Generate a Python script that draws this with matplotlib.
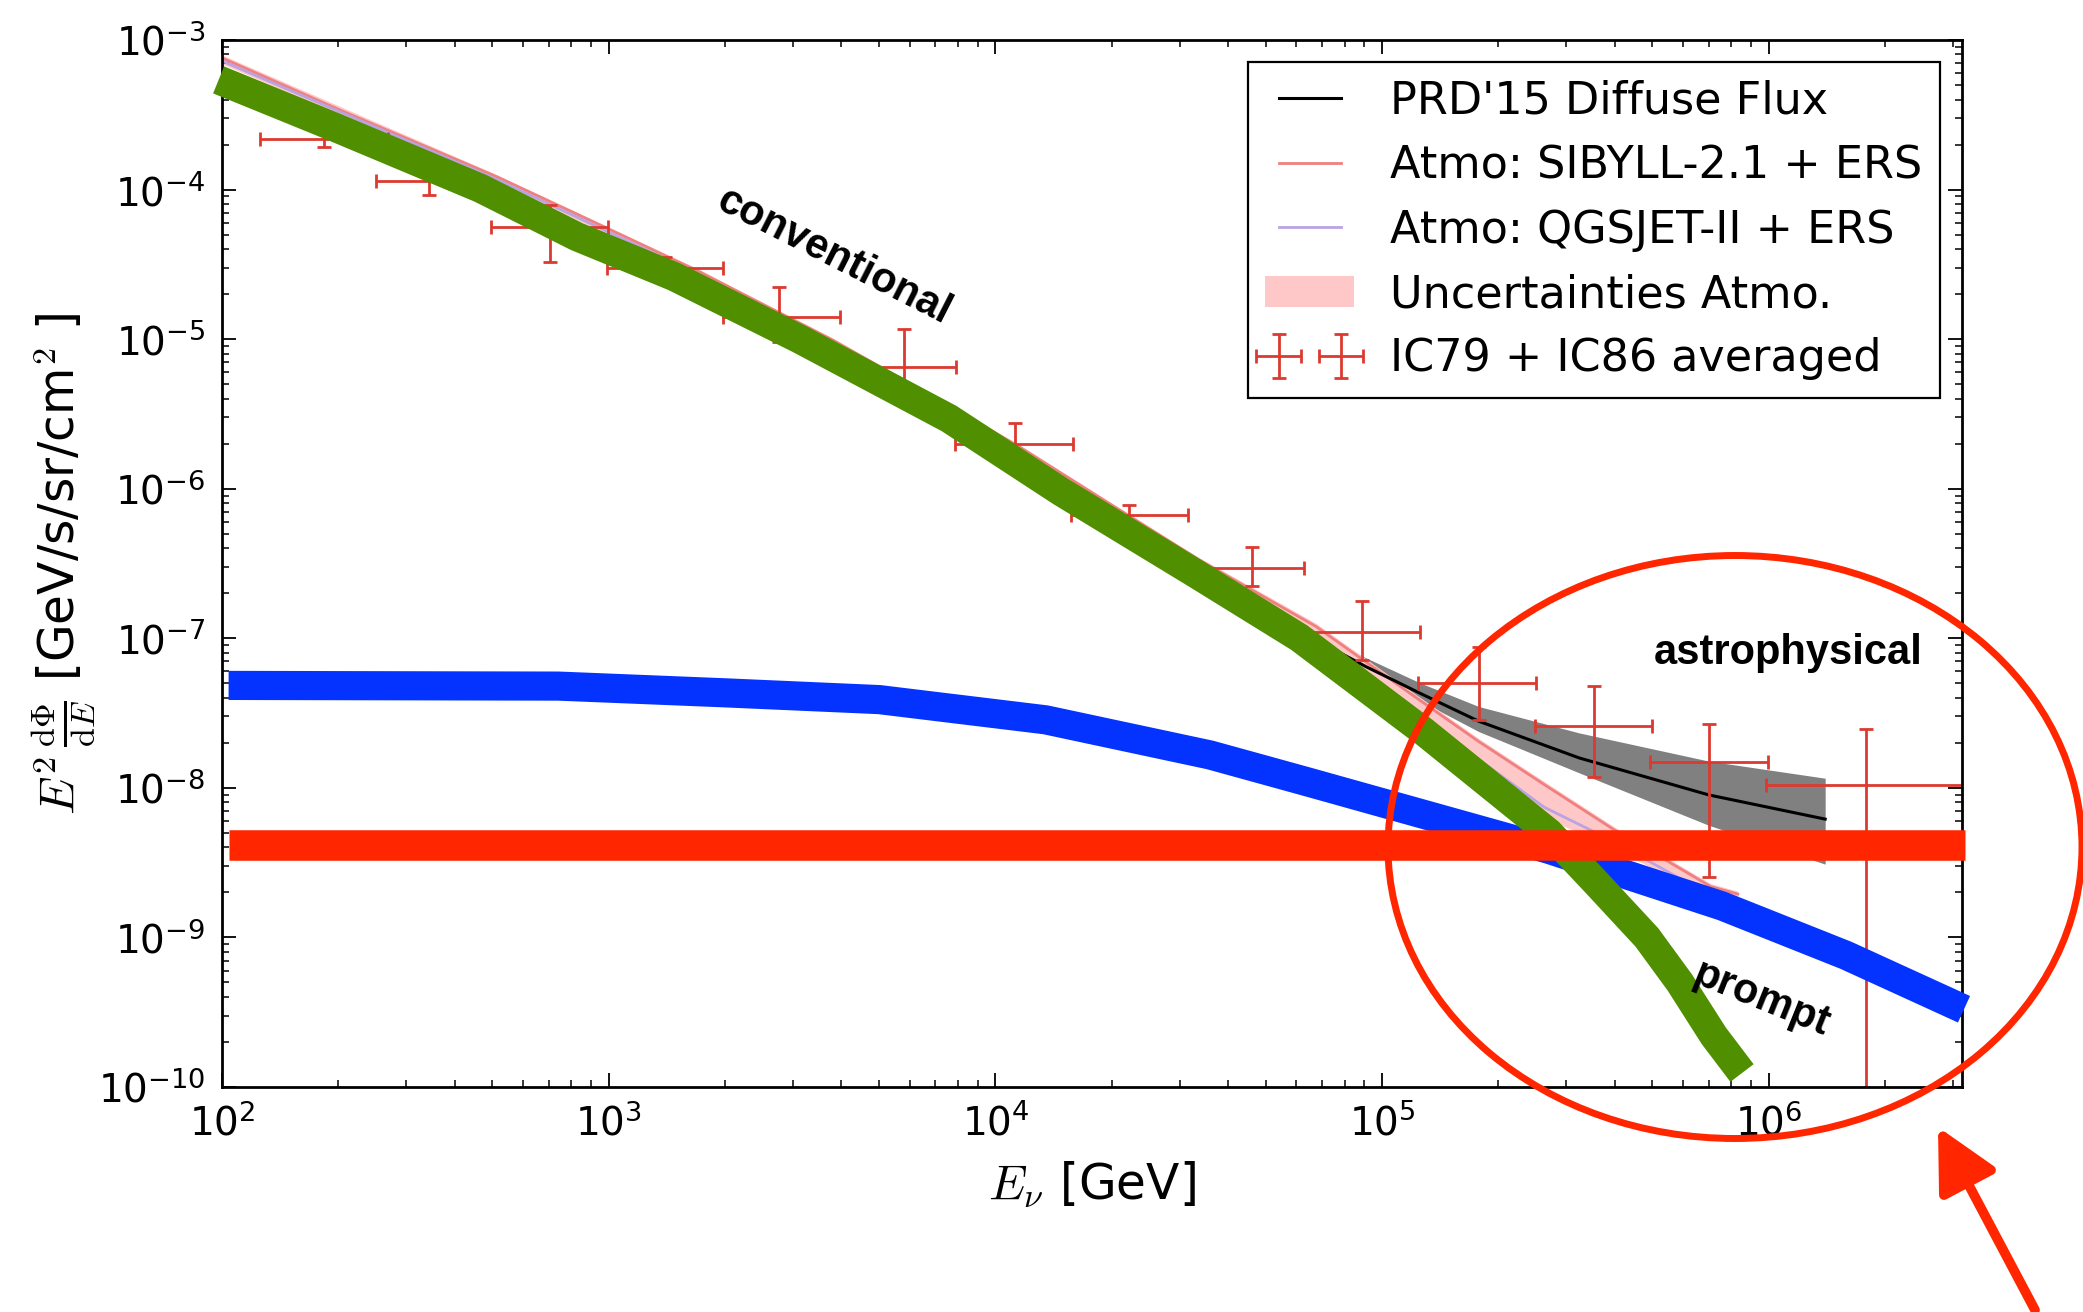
import numpy as np
import matplotlib
matplotlib.use("Agg")
import matplotlib.pyplot as plt
from matplotlib.patches import Ellipse, FancyArrowPatch

plt.rcParams['mathtext.fontset'] = 'cm'
plt.rcParams['axes.unicode_minus'] = False

# hand drawn bands (GeV, GeV/s/sr/cm2)
conv_E = [98, 193, 466, 828, 1476, 3119, 7586, 1.479e4, 3.311e4, 6.109e4,
          1.285e5, 2.704e5, 3.597e5, 4.842e5, 5.89e5, 7.211e5, 8.531e5]
conv_F = [5.41e-4, 2.65e-4, 1.02e-4, 4.84e-5, 2.62e-5, 1.0e-5, 2.95e-6, 9.55e-7,
          2.69e-7, 1.01e-7, 2.37e-8, 5.01e-9, 2.29e-9, 1.0e-9, 5.0e-10, 2.2e-10, 1.24e-10]

prompt_E = [104, 741, 1995, 5012, 1.349e4, 3.589e4, 6.31e4, 2.692e5, 7.586e5, 1.585e6, 3.2e6]
prompt_F = [4.84e-8, 4.79e-8, 4.32e-8, 3.89e-8, 2.85e-8, 1.66e-8, 1.11e-8, 3.89e-9,
            1.62e-9, 7.59e-10, 3.31e-10]

astro_E = [104, 3.21e6]
astro_F = [4.16e-9, 4.16e-9]

# atmospheric models
sib_E = [100, 202, 513, 929, 1718, 3793, 6887, 11535, 33651, 67453, 123027,
         177828, 263027, 398107, 707946, 831764]
sib_F = [7.59e-4, 3.40e-4, 1.22e-4, 5.96e-5, 2.82e-5, 9.89e-6, 4.13e-6, 1.91e-6,
         3.34e-7, 1.20e-7, 3.98e-8, 2.04e-8, 1.05e-8, 5.25e-9, 2.19e-9, 1.95e-9]

qgs_E = [100, 513, 1718, 6887, 33651, 67453, 123027, 177828, 263027, 398107, 707946, 831764]
qgs_F = [7.24e-4, 1.17e-4, 2.69e-5, 3.89e-6, 3.02e-7, 1.02e-7, 3.16e-8, 1.55e-8,
         7.41e-9, 4.37e-9, 1.9e-9, 1.7e-9]
unc_hi = [7.94e-4, 1.26e-4, 2.92e-5, 4.27e-6, 3.47e-7, 1.26e-7, 4.17e-8, 2.14e-8,
          1.10e-8, 5.50e-9, 2.29e-9, 2.04e-9]
unc_lo = [6.92e-4, 1.12e-4, 2.57e-5, 3.63e-6, 2.75e-7, 9.12e-8, 2.75e-8, 1.38e-8,
          6.31e-9, 3.98e-9, 1.78e-9, 1.58e-9]

# PRD'15 diffuse flux
prd_E = [63096, 90782, 125893, 177828, 323594, 699842, 1.40e6]
prd_F = [1.07e-7, 6.47e-8, 4.27e-8, 2.79e-8, 1.585e-8, 8.97e-9, 6.18e-9]
prd_hi = [1.175e-7, 7.41e-8, 5.01e-8, 3.50e-8, 2.33e-8, 1.51e-8, 1.16e-8]
prd_lo = [1.0e-7, 5.89e-8, 3.80e-8, 2.38e-8, 1.26e-8, 5.62e-9, 3.09e-9]

# IC79 + IC86 unfolded points
pt_E = [183.7, 342.8, 703.1, 1396, 2754, 5821, 11220, 22182, 46238, 88716,
        178649, 353183, 699842, 1.782e6]
pt_Elo = [125.3, 249.5, 497.7, 988.6, 1972, 3981, 7852, 15704, 31623, 62661,
          124166, 248886, 494311, 9.84e5]
pt_Ehi = [269.2, 467.7, 995.4, 1972, 3954, 7889, 15849, 31405, 62661, 125026,
          249459, 498884, 995405, 3.236e6]
pt_F = [2.168e-4, 1.148e-4, 5.60e-5, 2.98e-5, 1.413e-5, 6.55e-6, 2.0e-6, 6.65e-7,
        2.97e-7, 1.10e-7, 5.01e-8, 2.594e-8, 1.486e-8, 1.047e-8]
pt_Fhi = [2.399e-4, 1.318e-4, 7.94e-5, 3.55e-5, 2.244e-5, 1.164e-5, 2.77e-6, 7.76e-7,
          4.06e-7, 1.778e-7, 8.71e-8, 4.81e-8, 2.68e-8, 2.466e-8]
pt_Flo = [1.936e-4, 9.20e-5, 3.27e-5, 2.51e-5, 9.62e-6, 3.98e-6, 1.41e-6, 5.62e-7,
          2.24e-7, 7.18e-8, 2.85e-8, 1.18e-8, 2.55e-9, 1e-13]

W, H = 2083, 1312
fig = plt.figure(figsize=(W / 100, H / 100), dpi=100)
ax = fig.add_axes([222 / W, 1 - 1087 / H, 1740 / W, 1047 / H])
ax.set_xscale('log')
ax.set_yscale('log')

ax.fill_between(prd_E, prd_lo, prd_hi, color='#808080', lw=0, zorder=1)
h_unc = ax.fill_between(qgs_E, unc_lo, unc_hi, color='#ffc8c8', lw=0, zorder=1.2)
h_sib, = ax.plot(sib_E, sib_F, color='#f08080', lw=2, zorder=2)
h_qgs, = ax.plot(qgs_E, qgs_F, color='#b9a3e3', lw=2, zorder=2)
h_prd, = ax.plot(prd_E, prd_F, color='black', lw=2.2, zorder=2.2)

E = np.array(pt_E)
F = np.array(pt_F)
xerr = [E - np.array(pt_Elo), np.array(pt_Ehi) - E]
yerr = [F - np.array(pt_Flo), np.array(pt_Fhi) - F]
h_pts = ax.errorbar(E, F, xerr=xerr, yerr=yerr, fmt='none', ecolor='#dc3a30',
                    elinewidth=2, capsize=5, capthick=2, zorder=2.5)

# hand drawn overlay
ax.plot(prompt_E, prompt_F, color='#0433ff', lw=21, solid_capstyle='butt',
        solid_joinstyle='miter', zorder=4, clip_on=False)
ax.plot(conv_E, conv_F, color='#4f8f00', lw=21, solid_capstyle='butt',
        solid_joinstyle='miter', zorder=5, clip_on=False)
ax.plot(astro_E, astro_F, color='#ff2600', lw=22, solid_capstyle='butt',
        zorder=6, clip_on=False)

ax.set_xlim(1e2, 3.162e6)
ax.set_ylim(1e-10, 1e-3)

ax.tick_params(which='both', direction='in', top=True, right=True, labelsize=28)
ax.tick_params(which='major', length=10, width=1.3)
ax.tick_params(which='minor', length=5, width=1.1)
ax.tick_params(axis='x', pad=12)
ax.tick_params(axis='y', pad=12)
for s in ax.spines.values():
    s.set_linewidth(2)

ax.set_xlabel(r'$E_\nu$ [GeV]', fontsize=35, labelpad=12)
ax.set_ylabel(r'$E^2\,\frac{\mathrm{d}\Phi}{\mathrm{d}E}$ [GeV/s/sr/cm$^2$ ]',
              fontsize=35, labelpad=0)

leg = ax.legend(handles=[h_prd, h_sib, h_qgs, h_unc, h_pts],
                labels=["PRD'15 Diffuse Flux", 'Atmo: SIBYLL-2.1 + ERS',
                        'Atmo: QGSJET-II + ERS', 'Uncertainties Atmo.',
                        'IC79 + IC86 averaged'],
                loc='upper right', fontsize=32, numpoints=2, fancybox=False,
                edgecolor='black', framealpha=1, borderpad=0.4,
                labelspacing=0.48, handlelength=2.0, handletextpad=0.8,
                borderaxespad=0.5)
leg.get_frame().set_linewidth(1.6)
leg.set_zorder(10)

bold = dict(family='Liberation Sans', weight='bold', fontsize=30,
            ha='center', va='center')
fig.text(834 / W, 1 - 257 / H, 'conventional', rotation=-27, **bold)
fig.text(1788 / W, 1 - 653 / H, 'astrophysical', **bold)
fig.text(1761 / W, 1 - 999 / H, 'prompt', rotation=-22, **bold)

fig.add_artist(Ellipse((1735 / W, 1 - 847 / H), 694 / W, 583 / H,
                       transform=fig.transFigure, fill=False,
                       ec='#ff2600', lw=5, zorder=20))
fig.add_artist(FancyArrowPatch((2035 / W, 1 - 1310 / H), (1938 / W, 1 - 1127 / H),
                               transform=fig.transFigure,
                               arrowstyle='-|>,head_length=0.94,head_width=0.48',
                               mutation_scale=40, lw=7, color='#ff2600',
                               shrinkA=0, shrinkB=0, zorder=20))

fig.savefig('out.png', dpi=100, facecolor='white')
